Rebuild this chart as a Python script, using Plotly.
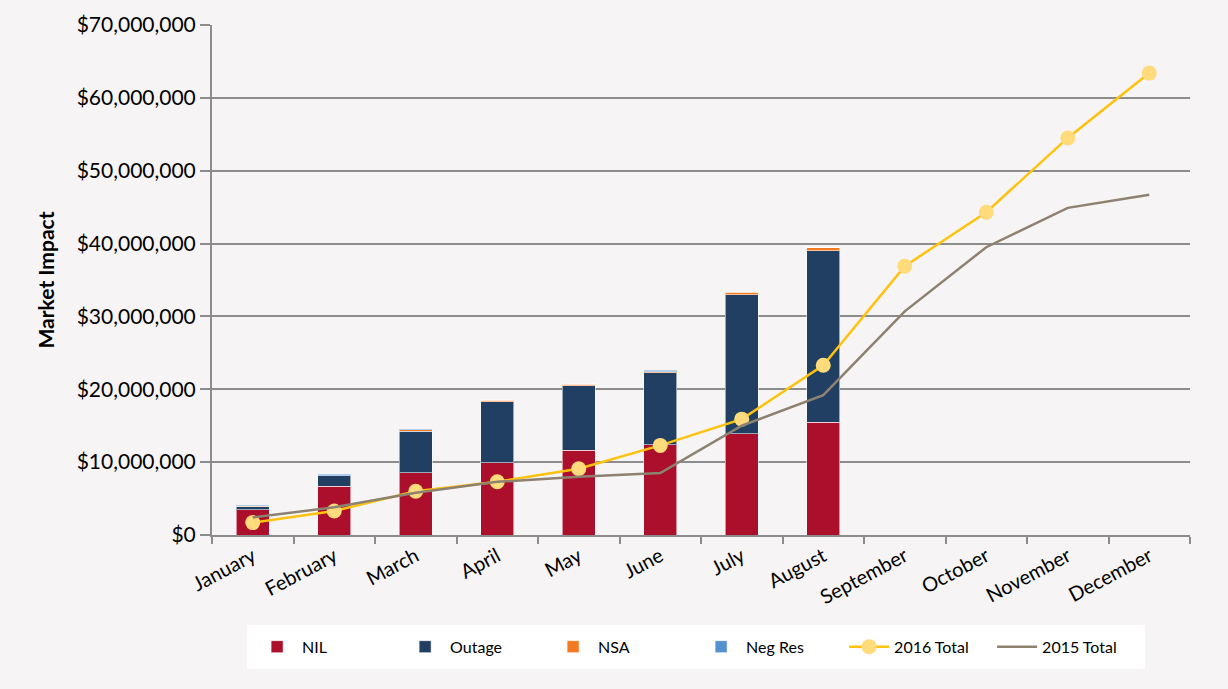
import plotly.graph_objects as go

months = ["January", "February", "March", "April", "May", "June", "July",
          "August", "September", "October", "November", "December"]
bar_months = months[:8]
nil = [3.5, 6.7, 8.55, 9.9, 11.6, 12.4, 13.9, 15.5]
outage = [0.4, 1.4, 5.7, 8.4, 8.9, 9.9, 19.1, 23.5]
nsa = [0.05, 0.05, 0.2, 0.2, 0.2, 0.1, 0.3, 0.4]
neg_res = [0.1, 0.2, 0.05, 0.05, 0.05, 0.2, 0.05, 0.05]
total_2016 = [1.7, 3.3, 6.0, 7.3, 9.1, 12.3, 15.9, 23.3, 36.9, 44.3, 54.5, 63.4]
total_2015 = [2.4, 3.8, 5.8, 7.3, 8.0, 8.5, 15.0, 19.2, 30.7, 39.5, 44.9, 46.7]

M = 1_000_000
FONT = "Lato"

fig = go.Figure()
bar_line = dict(width=1, color="rgba(255,255,255,0.55)")
for name, vals, color in [("NIL", nil, "#ab0f2b"), ("Outage", outage, "#203f62"),
                          ("NSA", nsa, "#f47a22"), ("Neg Res", neg_res, "#5590cf")]:
    fig.add_trace(go.Bar(x=bar_months, y=[v * M for v in vals], name=name,
                         marker=dict(color=color, line=bar_line), width=0.4))

fig.add_trace(go.Scatter(x=months, y=[v * M for v in total_2016], name="2016 Total",
                         mode="lines+markers",
                         line=dict(color="#ffc20e", width=2.5),
                         marker=dict(color="#ffdb7b", size=15)))
fig.add_trace(go.Scatter(x=months, y=[v * M for v in total_2015], name="2015 Total",
                         mode="lines", line=dict(color="#8d8170", width=2.5)))

fig.update_layout(
    barmode="stack",
    width=1228, height=689,
    paper_bgcolor="#f6f4f4", plot_bgcolor="#f6f4f4",
    margin=dict(l=212, r=38, t=25, b=154),
    font=dict(family=FONT, color="#000000"),
    showlegend=True,
    legend=dict(orientation="h", x=0.495, xanchor="center", y=-0.176, yanchor="top",
                bgcolor="#ffffff", bordercolor="#ffffff", borderwidth=5,
                font=dict(size=16, family=FONT),
                entrywidth=93, entrywidthmode="pixels",
                traceorder="normal", itemwidth=40),
)
fig.update_xaxes(
    categoryorder="array", categoryarray=months, range=[-0.5, 11.5],
    tickangle=-28, tickfont=dict(size=20, family=FONT),
    showline=True, linecolor="#8c8c8c", linewidth=2,
    ticks="outside", tickson="boundaries", ticklen=7, tickcolor="#8c8c8c", tickwidth=2,
    showgrid=False,
)
fig.update_yaxes(
    range=[0, 70 * M], tickvals=[i * 10 * M for i in range(8)],
    ticktext=["$0"] + [f"${i*10:,},000,000" for i in range(1, 8)],
    tickfont=dict(size=21, family=FONT),
    showline=True, linecolor="#8c8c8c", linewidth=2,
    ticks="outside", ticklen=10, tickcolor="#8c8c8c", tickwidth=2,
    showgrid=True, gridcolor="#8c8c8c", gridwidth=2,
    zeroline=False,
    title=dict(text="Market Impact", font=dict(size=21, family=FONT, weight="bold"), standoff=16),
)

fig.write_html("out.html")
